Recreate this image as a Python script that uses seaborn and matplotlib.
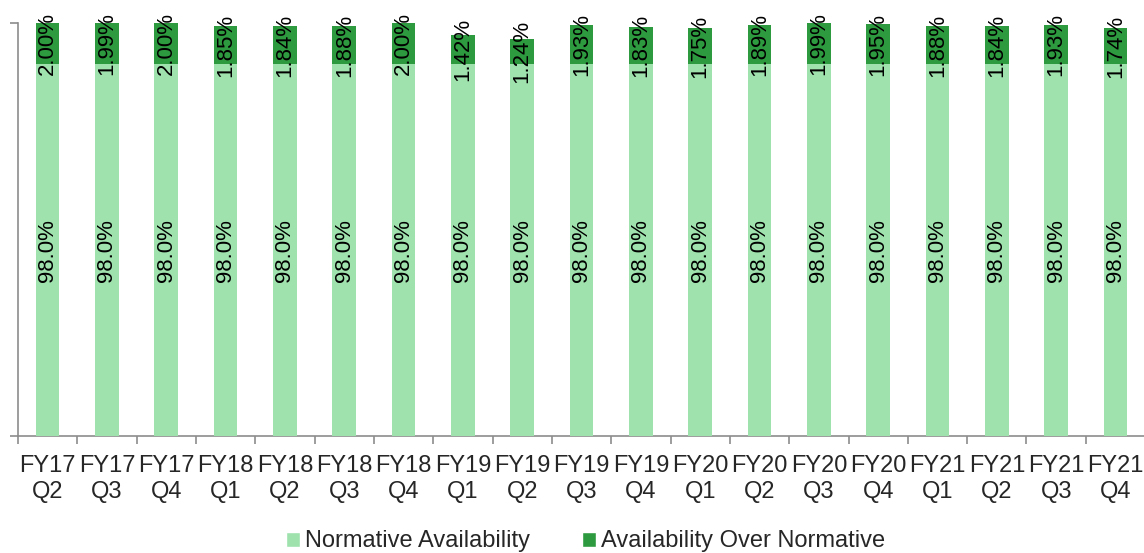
import matplotlib
matplotlib.use("Agg")
import matplotlib.pyplot as plt
from matplotlib.patches import Patch
import seaborn as sns
import pandas as pd
import numpy as np

quarters = ["FY17\nQ2", "FY17\nQ3", "FY17\nQ4", "FY18\nQ1", "FY18\nQ2", "FY18\nQ3",
            "FY18\nQ4", "FY19\nQ1", "FY19\nQ2", "FY19\nQ3", "FY19\nQ4", "FY20\nQ1",
            "FY20\nQ2", "FY20\nQ3", "FY20\nQ4", "FY21\nQ1", "FY21\nQ2", "FY21\nQ3",
            "FY21\nQ4"]
normative = [98.0] * 19
over_normative = [2.00, 1.99, 2.00, 1.85, 1.84, 1.88, 2.00, 1.42, 1.24, 1.93,
                  1.83, 1.75, 1.89, 1.99, 1.95, 1.88, 1.84, 1.93, 1.74]

LIGHT = "#9fe2ad"
DARK = "#2e9a3f"
AXIS = "#8c8c8c"
Y_MIN, Y_MAX = 80, 100

sns.set_theme(style="white")
plt.rcParams["font.family"] = ["Liberation Sans", "DejaVu Sans"]

df = pd.DataFrame({
    "quarter": quarters,
    "normative": normative,
    "over": over_normative,
})
df["total"] = df["normative"] + df["over"]

fig = plt.figure(figsize=(11.44, 5.53), dpi=100)
ax = fig.add_axes([0.0157, 0.2116, 0.9853, 0.7466])

# stacked bars: the full height first, the normative share drawn over it
sns.barplot(data=df, x="quarter", y="total", color=DARK, width=0.4,
            saturation=1, linewidth=0, ax=ax, zorder=2)
sns.barplot(data=df, x="quarter", y="normative", color=LIGHT, width=0.4,
            saturation=1, linewidth=0, ax=ax, zorder=3)

ax.set_ylim(Y_MIN, Y_MAX)
ax.set_xlim(-0.5, len(quarters) - 0.5)

for i, (n, o) in enumerate(zip(df["normative"], df["over"])):
    ax.text(i, (Y_MIN + n) / 2, f"{n:.1f}%", rotation=90, ha="center",
            va="center", fontsize=16, color="black", zorder=5)
    ax.text(i, n + o / 2, f"{o:.2f}%", rotation=90, ha="center",
            va="center", fontsize=16, color="black", zorder=5)

ax.set_xlabel("")
ax.set_ylabel("")
ax.set_yticks([Y_MIN, Y_MAX])
ax.set_yticklabels([])
ax.tick_params(axis="y", which="major", direction="out", length=6,
               width=1.2, color=AXIS, left=True)
ax.set_xticks(range(len(quarters)))
ax.set_xticklabels(quarters, fontsize=17, linespacing=1.2)
ax.tick_params(axis="x", which="major", length=0, pad=14)
ax.set_xticks(np.arange(-0.5, len(quarters), 1.0), minor=True)
ax.tick_params(axis="x", which="minor", direction="out", length=6,
               width=1.2, color=AXIS, bottom=True)

for side in ("top", "right"):
    ax.spines[side].set_visible(False)
for side in ("left", "bottom"):
    ax.spines[side].set_color(AXIS)
    ax.spines[side].set_linewidth(1.2)

handles = [Patch(facecolor=LIGHT, label="Normative Availability"),
           Patch(facecolor=DARK, label="Availability Over Normative")]
fig.legend(handles=handles, loc="center", bbox_to_anchor=(0.512, 0.021),
           ncol=2, frameon=False, fontsize=17, handlelength=0.6,
           handleheight=0.6, handletextpad=0.2, columnspacing=2.2)

fig.savefig("out.png", dpi=100)
